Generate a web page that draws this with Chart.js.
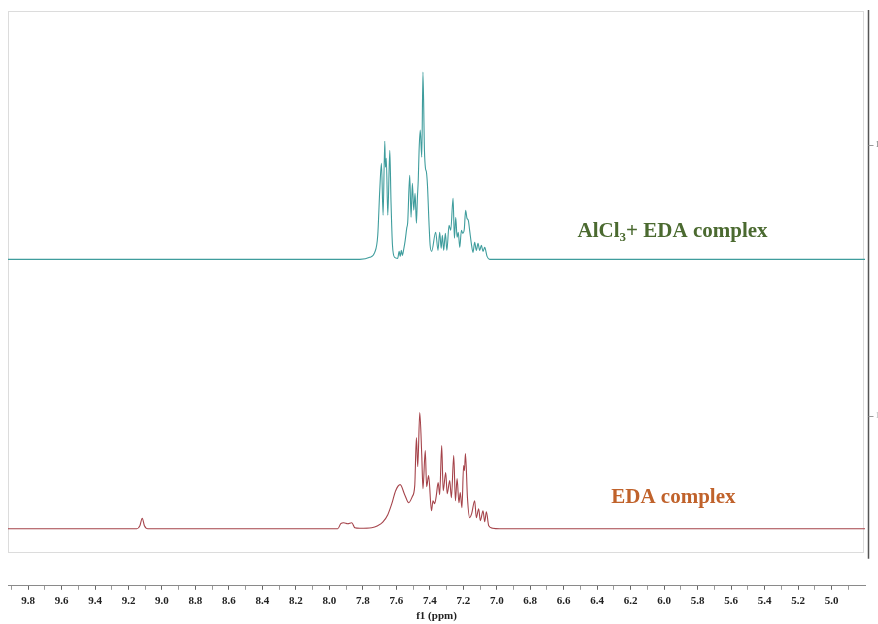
<!DOCTYPE html>
<html><head><meta charset="utf-8">
<script src="https://cdn.jsdelivr.net/npm/chart.js@4.4.1/dist/chart.umd.min.js"></script>
<style>html,body{margin:0;padding:0;background:#fff;}#c{display:block;}</style>
</head><body>
<canvas id="c" width="878" height="624"></canvas>
<script>
// Chemical shift (ppm) and intensity (arbitrary units)
const ppmTop = [9.92, 7.818, 7.759, 7.729, 7.711, 7.699, 7.689, 7.679, 7.669, 7.665, 7.660, 7.651, 7.639, 7.632, 7.623, 7.610, 7.592, 7.583, 7.577, 7.570, 7.564, 7.556, 7.547, 7.538, 7.532, 7.520, 7.512, 7.504, 7.496, 7.488, 7.480, 7.474, 7.469, 7.464, 7.457, 7.448, 7.441, 7.432, 7.426, 7.420, 7.414, 7.405, 7.398, 7.389, 7.365, 7.351, 7.341, 7.332, 7.325, 7.317, 7.307, 7.298, 7.285, 7.275, 7.261, 7.253, 7.245, 7.237, 7.230, 7.221, 7.211, 7.203, 7.194, 7.186, 7.178, 7.170, 7.162, 7.152, 7.142, 7.132, 7.122, 7.112, 7.102, 7.092, 7.082, 7.072, 7.058, 7.042, 4.80];
const intTop = [0, 0, 2, 7, 24, 69, 96, 44, 118, 92, 101, 44, 109, 59, 14, 2, 1, 8, 3, 9, 4, 10, 19, 31, 37, 84, 42, 76, 49, 66, 36, 62, 79, 109, 129, 102, 187, 109, 91, 87, 74, 37, 14, 8, 27, 9, 27, 11, 24, 9, 26, 9, 34, 29, 61, 21, 42, 22, 27, 12, 29, 26, 30, 49, 41, 39, 29, 16, 7, 17, 9, 16, 9, 14, 8, 12, 3, 0, 0];

const ppmBottom = [9.92, 9.150, 9.132, 9.118, 9.105, 9.084, 7.950, 7.932, 7.914, 7.890, 7.866, 7.848, 7.818, 7.747, 7.711, 7.681, 7.651, 7.627, 7.604, 7.577, 7.550, 7.526, 7.505, 7.490, 7.480, 7.472, 7.460, 7.448, 7.441, 7.427, 7.419, 7.407, 7.390, 7.381, 7.371, 7.362, 7.350, 7.341, 7.329, 7.320, 7.305, 7.296, 7.281, 7.271, 7.257, 7.247, 7.237, 7.226, 7.218, 7.208, 7.198, 7.193, 7.187, 7.175, 7.162, 7.150, 7.132, 7.122, 7.108, 7.098, 7.082, 7.072, 7.062, 7.048, 7.024, 6.983, 4.80];
const intBottom = [0, 0, 3, 10.5, 3, 0, 0, 5, 6, 5, 6, 1, 0.5, 1, 3, 6.5, 14, 25, 38, 44, 34, 26, 32, 43, 91, 62, 116, 73, 40, 78, 42, 53, 18, 28, 25, 32, 46, 34, 83, 38, 56, 35, 48, 31, 73, 28, 50, 26, 36, 21, 63, 58, 75, 31, 11, 15, 28, 11, 20, 8, 18, 7, 17, 3, 0.5, 0, 0];

const tickLabels = ["9.8","9.6","9.4","9.2","9.0","8.8","8.6","8.4","8.2","8.0","7.8","7.6","7.4","7.2","7.0","6.8","6.6","6.4","6.2","6.0","5.8","5.6","5.4","5.2","5.0"];
const axisTitle = "f1 (ppm)";
const offsetTop = 326;     // vertical stacking offset of the upper trace
const offsetBottom = 57;   // vertical stacking offset of the lower trace

const majorVals = tickLabels.map(Number);
const tickVals = [];
majorVals.forEach(v => { tickVals.push(+(v + 0.1).toFixed(1)); tickVals.push(v); });
tickVals.push(+(majorVals[majorVals.length - 1] - 0.1).toFixed(1));
const isMajor = v => majorVals.some(m => Math.abs(m - v) < 1e-6);

const toPts = (xs, ys, off) => xs.map((p, i) => ({x: p, y: ys[i] + off}));

const serif = '"Liberation Serif", "Times New Roman", serif';

const deco = {
  id: 'deco',
  beforeDatasetsDraw(chart) {
    const {ctx, chartArea: a, scales: {y}} = chart;
    ctx.save();
    ctx.strokeStyle = '#dcdcdc';
    ctx.lineWidth = 1;
    const b = Math.round(y.getPixelForValue(34));
    ctx.strokeRect(a.left + 0.5, a.top + 0.5, a.right - a.left - 2, b - a.top);
    ctx.restore();
  },
  afterDraw(chart) {
    const {ctx, chartArea: a, scales: {x, y}} = chart;
    ctx.save();
    // right intensity axis
    const rx = Math.round(a.right) + 3.5;
    ctx.strokeStyle = '#555';
    ctx.lineWidth = 1.5;
    ctx.beginPath();
    ctx.moveTo(rx, a.top - 1);
    ctx.lineTo(rx, y.getPixelForValue(27));
    ctx.stroke();
    ctx.lineWidth = 1;
    ctx.strokeStyle = '#999';
    [440, 170].forEach(v => {
      const py = Math.round(y.getPixelForValue(v)) + 0.5;
      ctx.beginPath(); ctx.moveTo(rx, py); ctx.lineTo(rx + 5, py); ctx.stroke();
    });
    ctx.fillStyle = '#777';
    ctx.font = '8px ' + serif;
    ctx.textBaseline = 'middle';
    ctx.fillText('1', rx + 7, y.getPixelForValue(440));
    ctx.fillStyle = '#bbb';
    ctx.fillText('1', rx + 7, y.getPixelForValue(170));

    // spectrum labels
    ctx.textBaseline = 'alphabetic';
    ctx.font = 'bold 21px ' + serif;
    let tx = x.getPixelForValue(6.517);
    let ty = y.getPixelForValue(348);
    ctx.fillStyle = '#4b6a30';
    ctx.fillText('AlCl', tx, ty);
    tx += ctx.measureText('AlCl').width;
    ctx.font = 'bold 13px ' + serif;
    ctx.fillText('3', tx, ty + 4);
    tx += ctx.measureText('3').width;
    ctx.font = 'bold 21px ' + serif;
    ctx.fillText('+ EDA complex', tx, ty);

    ctx.fillStyle = '#c0622b';
    ctx.fillText('EDA complex', x.getPixelForValue(6.316), y.getPixelForValue(83));
    ctx.restore();
  }
};

new Chart(document.getElementById('c'), {
  type: 'line',
  data: {
    datasets: [
      {label: 'AlCl3+ EDA complex', data: toPts(ppmTop, intTop, offsetTop), borderColor: '#3f9d9d', borderWidth: 1.1, pointRadius: 0, cubicInterpolationMode: 'monotone', fill: false},
      {label: 'EDA complex', data: toPts(ppmBottom, intBottom, offsetBottom), borderColor: '#a5434a', borderWidth: 1.1, pointRadius: 0, cubicInterpolationMode: 'monotone', fill: false}
    ]
  },
  options: {
    responsive: false,
    animation: false,
    layout: {padding: {left: 8, right: 13, top: 11, bottom: 0}},
    plugins: {legend: {display: false}, tooltip: {enabled: false}},
    scales: {
      x: {
        type: 'linear', reverse: true, min: 4.80, max: 9.92,
        afterBuildTicks: s => { s.ticks = tickVals.map(v => ({value: v})); },
        ticks: {
          autoSkip: false, maxRotation: 0, padding: 5, color: '#222',
          font: {family: serif, weight: 'bold', size: 11},
          callback: v => { const i = majorVals.findIndex(m => Math.abs(m - v) < 1e-6); return i >= 0 ? tickLabels[i] : ''; }
        },
        grid: {drawOnChartArea: false, drawTicks: true, tickLength: 4,
          tickColor: c => isMajor(c.tick.value) ? '#666' : '#999', color: '#999'},
        border: {display: true, color: '#8a8a8a', width: 1},
        title: {display: true, text: axisTitle, color: '#222', font: {family: serif, weight: 'bold', size: 11, lineHeight: 1.0}, padding: {top: -2, bottom: 2}}
      },
      y: {display: false, min: 0, max: 574}
    }
  },
  plugins: [deco]
});
</script>
</body></html>
